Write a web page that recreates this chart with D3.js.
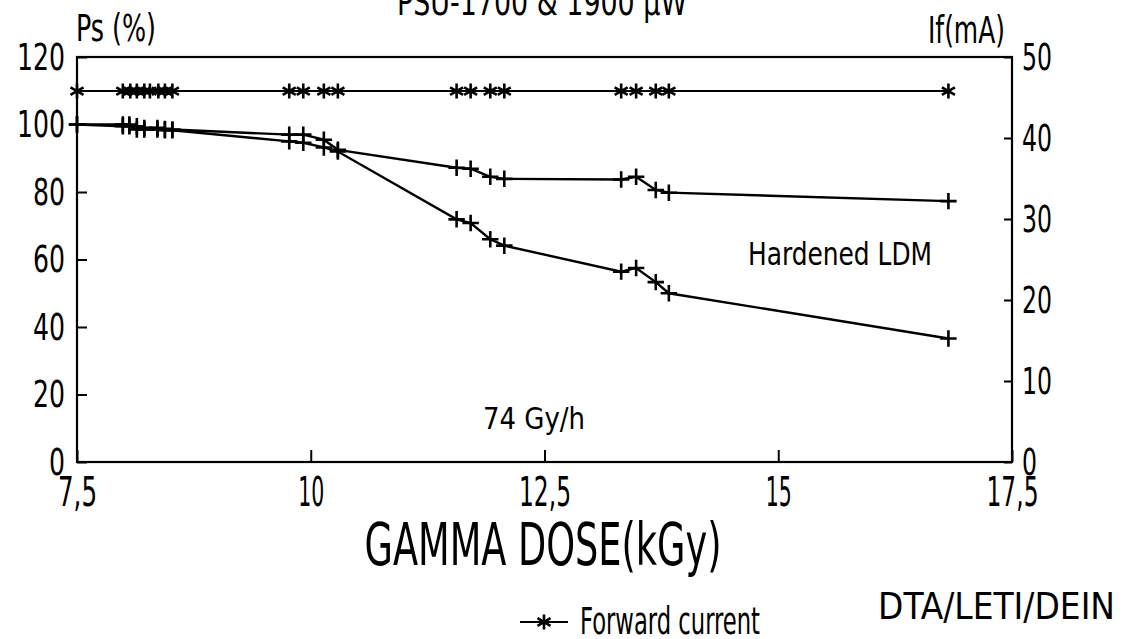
<!DOCTYPE html>
<html>
<head>
<meta charset="utf-8">
<script src="https://cdn.jsdelivr.net/npm/d3@7"></script>
<style>
  body { margin: 0; background: #fff; }
  svg text { font-family: "DejaVu Sans Condensed", "Liberation Sans Narrow", sans-serif; fill: #000; }
</style>
</head>
<body>
<svg id="chart"></svg>
<script>
const WIDTH = 1123;
const HEIGHT = 639;

const MARGINS = {
  left: 77,
  top: 57,
  right: 111,
  bottom: 175,
};

// x ticks (kGy) and y ticks
const doseTicks = [7.5, 10, 12.5, 15, 17.5];
const psTicks = [0, 20, 40, 60, 80, 100, 120];
const ifTicks = [0, 10, 20, 30, 40, 50];

// forward current, read on the right axis (mA)
const starDose = [7.5, 7.99, 8.07, 8.14, 8.22, 8.28, 8.37, 8.44, 8.52, 9.77, 9.92, 10.14, 10.29, 11.56, 11.71, 11.92, 12.07, 13.32, 13.48, 13.69, 13.83, 16.82];
const forwardCurrent = [45.8, 45.8, 45.8, 45.8, 45.8, 45.8, 45.8, 45.8, 45.8, 45.8, 45.8, 45.8, 45.8, 45.8, 45.8, 45.8, 45.8, 45.8, 45.8, 45.8, 45.8, 45.8];

// optical power Ps (%), two devices
const plusDose = [7.5, 7.99, 8.06, 8.14, 8.22, 8.36, 8.44, 8.52, 9.77, 9.92, 10.14, 10.29, 11.56, 11.71, 11.92, 12.07, 13.32, 13.48, 13.69, 13.83, 16.82];
const psUpper = [100, 100, 100, 99.5, 99, 99, 98.7, 98.5, 97, 97, 95.5, 92.5, 87.2, 86.9, 84.5, 83.9, 83.7, 84.5, 80.6, 79.8, 77.3];
const psLower = [100, 99.5, 99.5, 98.5, 98.5, 98.5, 98.3, 98.3, 95, 94.6, 93.2, 92, 71.9, 70.8, 66.0, 64.1, 56.4, 57.5, 53.3, 50.0, 36.6];

const svg = d3.select("#chart").attr("width", WIDTH).attr("height", HEIGHT);

svg.append("rect").attr("width", WIDTH).attr("height", HEIGHT).attr("fill", "#fff");

const xScale = d3
  .scaleLinear()
  .domain([7.5, 17.5])
  .range([MARGINS.left, WIDTH - MARGINS.right]);

const yScalePs = d3
  .scaleLinear()
  .domain([0, 120])
  .range([HEIGHT - MARGINS.bottom - 2, MARGINS.top]);

const yScaleIf = d3
  .scaleLinear()
  .domain([0, 50])
  .range([HEIGHT - MARGINS.bottom - 2, MARGINS.top]);

const x0 = xScale.range()[0];
const x1 = xScale.range()[1];
const yBot = yScalePs.range()[0];
const yTop = yScalePs.range()[1];

// axes (ticks point inwards), labels squeezed to the narrow plotter digits
const styleAxis = (g, size, charWidth) => {
  g.select(".domain").remove();
  g.selectAll(".tick line").attr("stroke", "#000").attr("stroke-width", 2);
  g.selectAll(".tick text")
    .attr("font-size", size)
    .attr("font-family", null)
    .attr("fill", "#000")
    .attr("textLength", function () {
      return this.textContent.length * charWidth;
    })
    .attr("lengthAdjust", "spacingAndGlyphs");
  g.attr("font-family", null).attr("font-size", null);
};

svg
  .append("g")
  .attr("transform", `translate(${x0}, 0)`)
  .call(d3.axisLeft(yScalePs).tickValues(psTicks).tickSize(-10).tickPadding(12))
  .call((g) => styleAxis(g, 38, 16));

svg
  .append("g")
  .attr("transform", `translate(${x1}, 0)`)
  .call(d3.axisRight(yScaleIf).tickValues(ifTicks).tickSize(-8).tickPadding(10))
  .call((g) => styleAxis(g, 38, 15));

svg
  .append("g")
  .attr("transform", `translate(0, ${yBot})`)
  .call(
    d3
      .axisBottom(xScale)
      .tickValues(doseTicks)
      .tickSize(-12)
      .tickPadding(16)
      .tickFormat((d) => String(d).replace(".", ","))
  )
  .call((g) => styleAxis(g, 40, 13));

// frame
svg
  .append("rect")
  .attr("x", x0)
  .attr("y", yTop)
  .attr("width", x1 - x0)
  .attr("height", yBot - yTop)
  .attr("fill", "none")
  .attr("stroke", "#000")
  .attr("stroke-width", 2.2);

// series
const plot = svg.append("g");

const drawSeries = ({ dose, values, scale, symbol, size, width }) => {
  const pts = dose.map((d, i) => [xScale(d), scale(values[i])]);

  plot
    .append("path")
    .datum(pts)
    .attr("fill", "none")
    .attr("stroke", "#000")
    .attr("stroke-width", width)
    .attr("d", d3.line());

  plot
    .append("g")
    .selectAll("path")
    .data(pts)
    .join("path")
    .attr("transform", (p) => `translate(${p[0]}, ${p[1]})`)
    .attr("d", d3.symbol(symbol, size))
    .attr("fill", "none")
    .attr("stroke", "#000")
    .attr("stroke-width", 2.6);
};

drawSeries({ dose: starDose, values: forwardCurrent, scale: yScaleIf, symbol: d3.symbolAsterisk, size: 160, width: 1.8 });
drawSeries({ dose: plusDose, values: psUpper, scale: yScalePs, symbol: d3.symbolPlus, size: 90, width: 2.4 });
drawSeries({ dose: plusDose, values: psLower, scale: yScalePs, symbol: d3.symbolPlus, size: 90, width: 2.4 });

// texts, squeezed to the widths of the narrow plotter font
const label = (txt, x, y, size, width, anchor = "start") =>
  svg
    .append("text")
    .attr("x", x)
    .attr("y", y)
    .attr("font-size", size)
    .attr("text-anchor", anchor)
    .attr("textLength", width)
    .attr("lengthAdjust", "spacingAndGlyphs")
    .text(txt);

label("PSU-1700 & 1900 µW", 542, 15, 37, 290, "middle");
label("Ps (%)", 76, 41, 37, 80);
label("If(mA)", 1005, 43, 37, 77, "end");
label("Hardened LDM", 748, 265, 32, 184);
label("74 Gy/h", 534, 429, 31, 102, "middle");
label("GAMMA DOSE(kGy)", 543, 565, 58, 357, "middle");
label("DTA/LETI/DEIN", 1115, 619, 38, 237, "end");

// legend
const legend = svg.append("g").attr("transform", "translate(520, 622)");
legend
  .append("line")
  .attr("x1", 0)
  .attr("x2", 48)
  .attr("stroke", "#000")
  .attr("stroke-width", 1.8);
legend
  .append("path")
  .attr("transform", "translate(24, 0)")
  .attr("d", d3.symbol(d3.symbolAsterisk, 160))
  .attr("fill", "none")
  .attr("stroke", "#000")
  .attr("stroke-width", 2.6);
label("Forward current", 580, 634, 37, 180);
</script>
</body>
</html>
